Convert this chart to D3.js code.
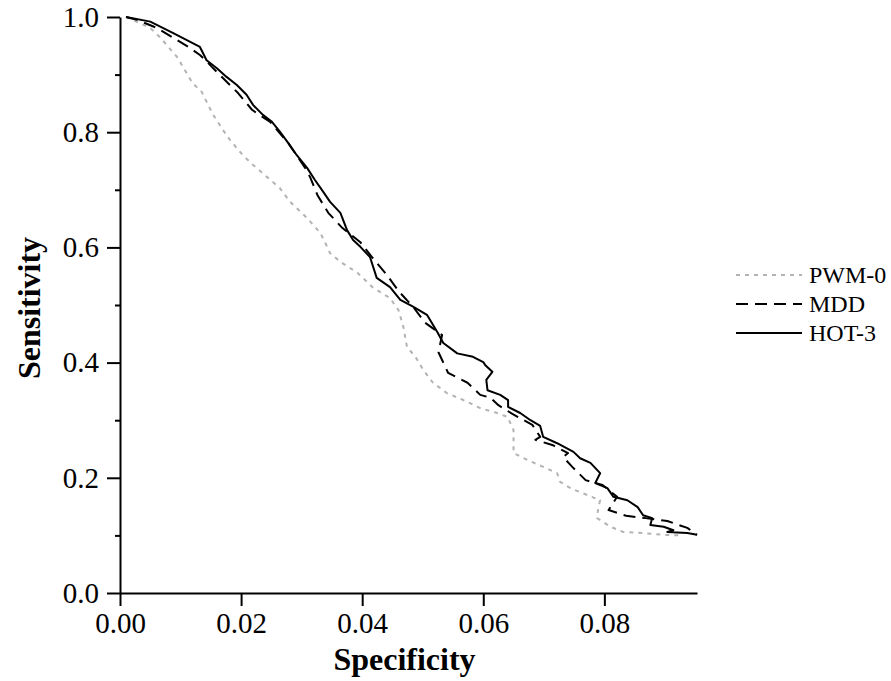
<!DOCTYPE html>
<html>
<head>
<meta charset="utf-8">
<script src="https://cdn.jsdelivr.net/npm/d3@7"></script>
<style>
html,body{margin:0;padding:0;background:#fff;}
svg{display:block;}
</style>
</head>
<body>
<svg id="chart" width="891" height="681"></svg>
<script>
// ---- data ----
const seriesNames = ["PWM-0", "MDD", "HOT-3"];
const xTickValues = [0.00, 0.02, 0.04, 0.06, 0.08];
const yTickValues = [0.0, 0.2, 0.4, 0.6, 0.8, 1.0];
const yMinorTicks = [0.1, 0.3, 0.5, 0.7, 0.9];

const pwmSpec = [0.001,0.005,0.0066,0.0094,0.012,0.0135,0.0143,0.0154,0.0170,0.0182,0.0203,0.0220,0.0243,0.0264,0.0281,0.0309,0.0331,0.0339,0.0347,0.0364,0.0392,0.0418,0.0446,0.0460,0.0468,0.0474,0.0488,0.0501,0.0517,0.0540,0.0567,0.0595,0.0623,0.0640,0.0650,0.0650,0.0650,0.0673,0.0699,0.0722,0.0727,0.0744,0.0772,0.0793,0.0790,0.0788,0.0810,0.0831,0.0864,0.0898,0.0925];
const pwmSens = [1.000,0.981,0.965,0.931,0.885,0.870,0.853,0.830,0.804,0.786,0.760,0.743,0.722,0.703,0.679,0.651,0.625,0.608,0.590,0.575,0.556,0.530,0.512,0.491,0.462,0.427,0.410,0.387,0.365,0.347,0.335,0.321,0.3125,0.3056,0.283,0.260,0.243,0.231,0.219,0.208,0.193,0.182,0.170,0.161,0.148,0.130,0.115,0.106,0.104,0.101,0.100];

const mddSpec = [0.001,0.0028,0.0061,0.0094,0.0116,0.0132,0.0144,0.0152,0.0170,0.0195,0.0218,0.0226,0.0248,0.0278,0.0307,0.0314,0.0326,0.0344,0.0367,0.0397,0.0417,0.0441,0.0461,0.0484,0.0504,0.0532,0.0526,0.0542,0.0574,0.0595,0.0612,0.0625,0.0648,0.0681,0.0694,0.0686,0.0714,0.0740,0.0732,0.0747,0.0769,0.0797,0.0821,0.0807,0.0836,0.0868,0.0904,0.0937,0.0953];
const mddSens = [1.000,0.995,0.981,0.960,0.946,0.934,0.922,0.913,0.894,0.868,0.839,0.833,0.818,0.781,0.736,0.722,0.691,0.660,0.634,0.609,0.582,0.552,0.523,0.497,0.469,0.448,0.418,0.382,0.365,0.344,0.339,0.326,0.311,0.292,0.271,0.266,0.257,0.243,0.236,0.219,0.196,0.1875,0.167,0.144,0.134,0.130,0.125,0.113,0.101];

const hotSpec = [0.001,0.005,0.0088,0.0132,0.0143,0.0160,0.0176,0.0193,0.0209,0.0220,0.0236,0.0251,0.0264,0.0278,0.0292,0.0309,0.0322,0.0336,0.0347,0.0364,0.0375,0.0385,0.0397,0.0413,0.0424,0.0446,0.0463,0.0484,0.0507,0.0524,0.0534,0.0557,0.0583,0.0600,0.0603,0.0615,0.0605,0.0607,0.0628,0.0641,0.0641,0.0661,0.0678,0.0694,0.0699,0.0722,0.0749,0.0760,0.0777,0.0793,0.0785,0.0805,0.0815,0.0838,0.0855,0.0864,0.0879,0.0876,0.0898,0.0914,0.0904,0.0937,0.0953];
const hotSens = [1.000,0.992,0.972,0.948,0.925,0.911,0.896,0.882,0.865,0.847,0.830,0.818,0.801,0.781,0.760,0.738,0.717,0.696,0.679,0.660,0.630,0.613,0.601,0.583,0.547,0.531,0.509,0.497,0.483,0.453,0.434,0.416,0.410,0.401,0.396,0.384,0.370,0.352,0.344,0.335,0.323,0.3125,0.300,0.290,0.271,0.260,0.245,0.234,0.226,0.208,0.191,0.182,0.167,0.161,0.149,0.135,0.130,0.118,0.115,0.109,0.106,0.104,0.101];

// ---- layout ----
const svg = d3.select("#chart");
const plotL = 120, plotR = 697, plotT = 17, plotB = 593;
const x = d3.scaleLinear().domain([0, 0.0953]).range([plotL, plotR]);
const y = d3.scaleLinear().domain([0, 1]).range([plotB, plotT]);

const tickFont = "'Liberation Serif','Times New Roman',serif";

// x axis
svg.append("g").attr("transform", `translate(0,${plotB})`)
  .call(d3.axisBottom(x).tickValues(xTickValues).tickFormat(d3.format(".2f")).tickSize(13).tickSizeOuter(0).tickPadding(6));
// y axis
svg.append("g").attr("transform", `translate(${plotL},0)`)
  .call(d3.axisLeft(y).tickValues(yTickValues).tickFormat(d3.format(".1f")).tickSize(13).tickSizeOuter(0).tickPadding(8));
// minor y ticks
svg.append("g").attr("transform", `translate(${plotL},0)`)
  .call(d3.axisLeft(y).tickValues(yMinorTicks).tickFormat("").tickSize(5).tickSizeOuter(0))
  .select(".domain").remove();

svg.selectAll(".domain, .tick line").attr("stroke", "#000").attr("stroke-width", 2);
svg.selectAll(".tick text").attr("font-family", tickFont).attr("font-size", 29).attr("fill", "#000");

// axis titles
svg.append("text").attr("x", (plotL + plotR) / 2 - 4).attr("y", 670)
  .attr("text-anchor", "middle").attr("font-family", tickFont).attr("font-weight", "bold")
  .attr("font-size", 32).text("Specificity");
svg.append("text").attr("transform", `translate(40,${(plotT + plotB) / 2 + 3}) rotate(-90)`)
  .attr("text-anchor", "middle").attr("font-family", tickFont).attr("font-weight", "bold")
  .attr("font-size", 32).text("Sensitivity");

// ---- lines ----
const line = d3.line().x(d => x(d[0])).y(d => y(d[1]));
const series = [
  {name: seriesNames[0], pts: d3.zip(pwmSpec, pwmSens), color: "#b3b3b3", dash: "4,5"},
  {name: seriesNames[1], pts: d3.zip(mddSpec, mddSens), color: "#000", dash: "12,7"},
  {name: seriesNames[2], pts: d3.zip(hotSpec, hotSens), color: "#000", dash: null}
];
series.forEach(s => {
  svg.append("path").datum(s.pts).attr("d", line)
    .attr("fill", "none").attr("stroke", s.color).attr("stroke-width", 2)
    .attr("stroke-dasharray", s.dash).attr("stroke-linejoin", "round");
});

// ---- legend ----
const legendY = [275, 304, 333];
series.forEach((s, i) => {
  svg.append("line").attr("x1", 736).attr("x2", 802).attr("y1", legendY[i]).attr("y2", legendY[i])
    .attr("stroke", s.color).attr("stroke-width", 2).attr("stroke-dasharray", s.dash);
  svg.append("text").attr("x", 809).attr("y", legendY[i]).attr("dy", "0.35em")
    .attr("font-family", tickFont).attr("font-size", 24)
    .text(s.name);
});
</script>
</body>
</html>
